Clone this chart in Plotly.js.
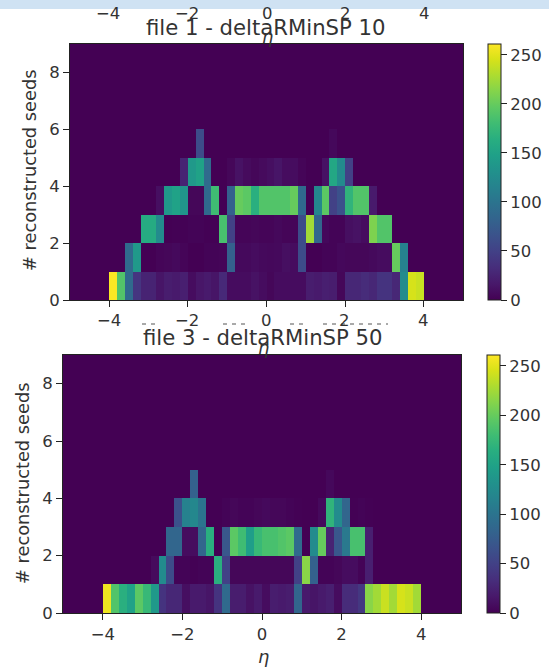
<!DOCTYPE html>
<html>
<head>
<meta charset="utf-8">
<script src="https://cdn.plot.ly/plotly-3.0.1.min.js"></script>
<style>
  html, body { margin: 0; padding: 0; background: #fff; }
  #chart { width: 549px; height: 667px; }
</style>
</head>
<body>
<div id="chart"></div>
<script>
// bin edges: 50 bins in eta, 9 in seed count
const etaEdges = Array.from({ length: 51 }, (_, i) => Number((-5 + i * 0.2).toFixed(1)))
const seedEdges = [0, 1, 2, 3, 4, 5, 6, 7, 8, 9]
const etaTicks = [-4, -2, 0, 2, 4]
const etaTickLabels = ['−4', '−2', '0', '2', '4']
const seedTicks = [0, 2, 4, 6, 8]
const cbarTicks = [0, 50, 100, 150, 200, 250]

const pad = [0, 0, 0, 0, 0]

// file 1 rows, eta -5 to 5
const f1Row0 = [...pad, 260, 190, 90, 40, 25, 25, 14, 20, 18, 22, 8, 15, 18, 14, 30, 8, 8, 8, 12, 8, 4, 8, 8, 8, 8, 20, 18, 22, 20, 4, 28, 28, 32, 28, 38, 38, 28, 125, 245, 240, ...pad]
const f1Row1 = [...pad, 0, 0, 90, 140, 0, 0, 3, 4, 6, 3, 0, 0, 2, 2, 3, 80, 6, 6, 8, 6, 5, 6, 10, 8, 60, 0, 0, 2, 2, 5, 4, 4, 4, 6, 8, 8, 200, 115, 0, 0, ...pad]
const f1Row2 = [...pad, 0, 0, 0, 0, 160, 160, 125, 0, 1, 1, 2, 2, 1, 1, 185, 50, 3, 3, 4, 3, 3, 5, 3, 3, 60, 225, 85, 5, 2, 2, 10, 12, 8, 210, 190, 190, 0, 0, 0, 0, ...pad]
const f1Row3 = [...pad, 0, 0, 0, 0, 0, 0, 10, 140, 150, 135, 4, 4, 90, 180, 0, 80, 200, 195, 165, 190, 190, 190, 190, 200, 90, 0, 120, 195, 50, 65, 170, 190, 190, 18, 0, 0, 0, 0, 0, 0, ...pad]
const f1Row4 = [...pad, 0, 0, 0, 0, 0, 0, 0, 0, 0, 25, 140, 150, 90, 0, 0, 4, 12, 7, 4, 7, 10, 14, 8, 8, 3, 0, 0, 12, 155, 125, 50, 0, 0, 0, 0, 0, 0, 0, 0, 0, ...pad]
const f1Row5 = [...pad, 0, 0, 0, 0, 0, 0, 0, 0, 0, 0, 0, 60, 0, 0, 0, 0, 0, 0, 0, 0, 0, 0, 0, 0, 0, 0, 0, 0, 5, 0, 0, 0, 0, 0, 0, 0, 0, 0, 0, 0, ...pad]

// file 3 rows
const f3Row0 = [...pad, 255, 190, 165, 150, 195, 175, 140, 38, 28, 28, 10, 18, 18, 14, 38, 90, 20, 20, 12, 18, 8, 20, 18, 20, 85, 18, 14, 18, 22, 8, 32, 32, 42, 215, 225, 240, 225, 245, 240, 225, ...pad]
const f3Row1 = [...pad, 0, 0, 0, 0, 0, 0, 7, 125, 60, 2, 2, 1, 2, 2, 165, 50, 4, 4, 4, 4, 4, 4, 4, 4, 50, 215, 80, 2, 2, 4, 8, 8, 2, 22, 0, 0, 0, 0, 0, 0, ...pad]
const f3Row2 = [...pad, 0, 0, 0, 0, 0, 0, 0, 0, 85, 85, 8, 8, 85, 165, 0, 70, 195, 180, 145, 175, 185, 185, 190, 195, 90, 0, 125, 200, 25, 70, 105, 185, 185, 22, 0, 0, 0, 0, 0, 0, ...pad]
const f3Row3 = [...pad, 0, 0, 0, 0, 0, 0, 0, 0, 0, 65, 115, 120, 100, 0, 0, 2, 4, 2, 2, 4, 6, 4, 4, 2, 1, 0, 0, 6, 170, 125, 85, 1, 2, 1, 0, 0, 0, 0, 0, 0, ...pad]
const f3Row4 = [...pad, 0, 0, 0, 0, 0, 0, 0, 0, 0, 0, 0, 80, 0, 0, 0, 0, 0, 0, 0, 0, 0, 0, 0, 0, 0, 0, 0, 0, 5, 0, 0, 0, 0, 0, 0, 0, 0, 0, 0, 0, ...pad]

const emptyRow = etaEdges.slice(1).map(() => 0)
const file1 = [f1Row0, f1Row1, f1Row2, f1Row3, f1Row4, f1Row5, emptyRow, emptyRow, emptyRow]
const file3 = [f3Row0, f3Row1, f3Row2, f3Row3, f3Row4, emptyRow, emptyRow, emptyRow, emptyRow]

const W = 549
const H = 667
const px = v => v / W
const py = v => 1 - v / H
const textColor = '#333333'
const lineColor = '#222222'
const font = { family: 'DejaVu Sans', size: 16.5, color: textColor }

const heat = (z, xa, ya, cbX, cbTop, cbBottom) => ({
  type: 'heatmap',
  x: etaEdges,
  y: seedEdges,
  z,
  xaxis: xa,
  yaxis: ya,
  zmin: 0,
  zmax: 261,
  colorscale: 'Viridis',
  zsmooth: false,
  colorbar: {
    x: px(cbX),
    xanchor: 'left',
    y: py(cbBottom),
    yanchor: 'bottom',
    len: (cbBottom - cbTop) / H,
    lenmode: 'fraction',
    thickness: 13,
    thicknessmode: 'pixels',
    outlinewidth: 1,
    outlinecolor: lineColor,
    tickvals: cbarTicks,
    ticks: 'outside',
    ticklen: 6,
    tickcolor: lineColor,
    tickfont: font,
    xpad: 0,
    ypad: 0,
  },
})

const xAxis = (left, right, anchor) => ({
  domain: [px(left), px(right)],
  range: [-5, 5],
  anchor,
  tickvals: etaTicks,
  ticktext: etaTickLabels,
  ticks: 'outside',
  ticklen: 6,
  tickcolor: lineColor,
  tickfont: font,
  linecolor: lineColor,
  linewidth: 1,
  mirror: true,
  showgrid: false,
  zeroline: false,
})

const yAxis = (top, bottom, anchor) => ({
  domain: [py(bottom), py(top)],
  range: [0, 9],
  anchor,
  tickvals: seedTicks,
  ticks: 'outside',
  ticklen: 6,
  tickcolor: lineColor,
  tickfont: font,
  linecolor: lineColor,
  linewidth: 1,
  mirror: true,
  showgrid: false,
  zeroline: false,
})

const label = (text, x, y, extra = {}) => ({
  text,
  xref: 'paper',
  yref: 'paper',
  x: px(x),
  y: py(y),
  xanchor: 'center',
  yanchor: 'middle',
  showarrow: false,
  font,
  ...extra,
})

const axisTitleFont = { ...font, size: 17.8 }
const titleFont = { ...font, size: 21.2 }

// stray tick labels of the panel cut off above the first plot
const strayTop = [[108, '−4'], [187, '−2'], [267, '0'], [345, '2'], [424, '4']]
  .map(([x, t]) => label(t, x, 14))

const annotations = [
  ...strayTop,
  label('file 1 - deltaRMinSP 10', 266, 27, { font: titleFont }),
  label('<i>η</i>', 267, 37, { font: axisTitleFont }),
  label('# reconstructed seeds', 29, 171, { textangle: -90, font: axisTitleFont }),
  label('−4', 109, 320),
  label('−2', 187, 320),
  label('0', 266, 320),
  label('2', 344, 320),
  label('4', 423, 320),
  label('file 3 - deltaRMinSP 50', 263, 337, { font: titleFont }),
  label('<i>η</i>', 263, 347, { font: axisTitleFont }),
  label('# reconstructed seeds', 22, 484, { textangle: -90, font: axisTitleFont }),
  label('<i>η</i>', 263, 656, { font: axisTitleFont }),
]

// remains of a cut-off title between the two plots
const strayDashes = [[142, 157], [223, 248], [290, 303], [323, 388]].map(([x0, x1]) => ({
  type: 'line',
  xref: 'paper',
  yref: 'paper',
  x0: px(x0),
  x1: px(x1),
  y0: py(324),
  y1: py(324),
  line: { color: '#555555', width: 1, dash: '4px,5px' },
}))

const data = [
  heat(file1, 'x', 'y', 488, 44, 300),
  heat(file3, 'x2', 'y2', 487, 355, 613),
]

const layout = {
  width: W,
  height: H,
  margin: { l: 0, r: 0, t: 0, b: 0 },
  paper_bgcolor: '#fff',
  plot_bgcolor: '#440154',
  font,
  showlegend: false,
  xaxis: { ...xAxis(70, 463, 'y'), showticklabels: false },
  yaxis: yAxis(44, 300, 'x'),
  xaxis2: xAxis(63, 461, 'y2'),
  yaxis2: yAxis(355, 613, 'x2'),
  annotations,
  shapes: [
    { type: 'rect', xref: 'paper', yref: 'paper', x0: 0, x1: 1, y0: py(9), y1: 1, fillcolor: '#cfe2f3', line: { width: 0 } },
    ...strayDashes,
  ],
}

Plotly.newPlot('chart', data, layout, { displayModeBar: false, responsive: false })
</script>
</body>
</html>
